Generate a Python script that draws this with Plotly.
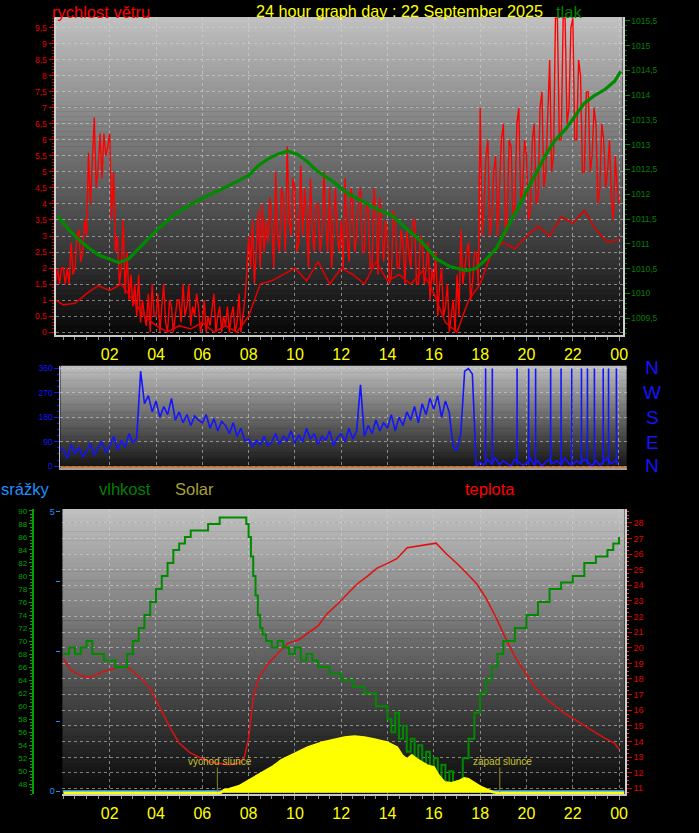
import pandas as pd
import plotly.graph_objects as go

BASE = pd.Timestamp("2025-09-22 00:00")

# ---------------- data: top panel (wind m/s, pressure hPa) ----------------
gust_start = "2025-09-21 23:40"          # 5-minute samples
gust_ms = [1.5, 2.0, 1.5, 2.0,
           2.0, 1.5, 2.0, 1.5, 2.8, 1.8, 2.0, 3.0, 3.2, 2.2, 2.5, 3.5,
           3.0, 5.6, 4.0, 5.2, 6.7, 4.5, 5.1, 6.2, 4.8, 6.2, 5.5, 5.8,
           6.2, 3.5, 5.0, 2.5, 3.0, 1.5, 2.0, 3.5, 1.2, 2.5, 1.0, 1.8,
           0.8, 1.5, 0.5, 1.8, 0.3, 1.0, 0.5, 0.2, 1.2, 0.0, 1.5, 0.5,
           0.5, 1.2, 0.0, 0.8, 1.5, 0.3, 0.0, 1.0, 0.8, 0.0, 0.5, 1.0,
           1.0, 0.3, 1.5, 0.5, 0.8, 1.5, 0.2, 0.8, 0.5, 1.2, 0.8, 0.0,
           0.3, 1.0, 0.0, 0.5, 0.2, 0.8, 1.2, 0.0, 0.5, 0.8, 0.0, 0.5,
           0.2, 0.8, 0.0, 0.5, 0.8, 0.0, 0.3, 1.2, 0.0, 0.5, 1.0, 1.8,
           3.0, 2.0, 3.5, 1.5, 2.5, 3.8, 2.0, 4.0, 2.5, 3.5, 2.8, 4.2,
           3.5, 2.0, 5.0, 3.0, 2.5, 4.5, 4.2, 2.5, 5.8, 3.5, 3.0, 4.8,
           4.5, 2.5, 2.8, 5.2, 3.0, 4.5, 3.5, 2.0, 4.8, 3.2, 2.5, 4.0,
           4.0, 2.5, 3.0, 5.0, 3.5, 2.5, 4.5, 2.0, 3.2, 4.5, 3.0, 2.5,
           3.5, 2.0, 4.8, 3.0, 2.2, 4.5, 4.0, 2.5, 3.0, 4.2, 4.5, 2.5,
           2.5, 4.0, 3.8, 2.0, 2.0, 4.5, 3.5, 1.8, 4.2, 3.0, 2.2, 3.5,
           3.0, 1.5, 1.8, 3.8, 3.5, 2.0, 2.0, 3.2, 2.8, 1.5, 3.2, 2.5,
           2.0, 3.5, 3.5, 1.5, 1.5, 3.0, 2.8, 1.5, 2.0, 2.8, 1.0, 2.0,
           1.5, 2.5, 0.5, 1.5, 2.0, 0.5, 0.8, 1.5, 0.0, 0.5, 1.0, 0.0,
           1.8, 0.5, 3.2, 1.5, 2.0, 2.5, 2.8, 1.0, 1.5, 2.5, 2.5, 1.5,
           7.0, 3.0, 4.0, 5.5, 6.0, 3.0, 3.5, 5.0, 5.5, 3.0, 4.5, 6.0,
           6.5, 3.0, 3.5, 6.0, 5.8, 3.5, 4.0, 6.5, 7.0, 4.0, 4.5, 6.0,
           5.5, 3.5, 3.8, 6.0, 6.5, 4.0, 4.2, 7.0, 7.5, 4.5, 5.0, 6.5,
           8.5, 5.0, 5.5, 9.8, 9.8, 6.0, 6.0, 9.8, 9.8, 6.5, 7.0, 9.5,
           9.8, 6.0, 6.0, 8.5, 8.0, 5.0, 5.0, 7.5, 7.5, 5.0, 5.5, 7.0,
           6.5, 4.0, 4.5, 6.5, 6.0, 4.5, 5.0, 6.0, 4.2, 3.5, 5.5, 4.5,
           4.0]

avg_hours = [-0.33, 0, 0.5, 1, 1.5, 2, 2.5, 3, 3.5, 4, 4.5, 5, 5.5, 6, 6.5, 7, 7.5, 8,
             8.5, 9, 9.5, 10, 10.5, 11, 11.5, 12, 12.5, 13, 13.5, 14, 14.5, 15, 15.5,
             16, 16.5, 17, 17.5, 18, 18.5, 19, 19.5, 20, 20.5, 21, 21.5, 22, 22.5, 23,
             23.5, 24]
avg_ms = [1.0, 0.85, 0.9, 1.2, 1.45, 1.3, 1.5, 1.0, 0.5, 0.2, 0.0, 0.2, 0.1, 0.3, 0.0,
          0.2, 0.0, 0.5, 1.5, 1.6, 1.8, 2.0, 1.6, 2.2, 1.5, 2.0, 1.8, 1.5, 2.2, 1.6,
          1.8, 1.5, 1.9, 1.2, 0.3, 0.0, 1.0, 1.5, 2.5, 2.8, 2.6, 3.0, 3.3, 3.0, 3.6,
          3.4, 3.8, 3.2, 2.8, 2.9]

pres_hours = [-0.26, 0.26, 0.69, 1.11, 1.54, 1.97, 2.4, 2.83, 3.25, 3.68, 4.11, 4.75,
              5.4, 6.04, 6.68, 7.32, 7.97, 8.4, 8.82, 9.25, 9.68, 10.1, 10.5, 10.96,
              11.6, 12.25, 12.9, 13.5, 14.2, 14.8, 15.5, 16.1, 16.7, 17.4, 17.8, 18.2,
              18.7, 19.1, 19.5, 19.96, 20.4, 20.8, 21.2, 21.7, 22.1, 22.5, 22.9, 23.4,
              23.8, 24.07]
pres_hpa = [1011.57, 1011.27, 1011.07, 1010.91, 1010.77, 1010.70, 1010.62, 1010.70,
            1010.91, 1011.11, 1011.31, 1011.57, 1011.77, 1011.93, 1012.07, 1012.21,
            1012.37, 1012.57, 1012.71, 1012.81, 1012.87, 1012.81, 1012.67, 1012.47,
            1012.27, 1012.03, 1011.87, 1011.71, 1011.57, 1011.31, 1011.03, 1010.70,
            1010.54, 1010.46, 1010.50, 1010.66, 1010.91, 1011.27, 1011.63, 1012.03,
            1012.43, 1012.77, 1013.07, 1013.32, 1013.58, 1013.84, 1013.98, 1014.12,
            1014.28, 1014.48]

wind_ticks = [0, 0.5, 1, 1.5, 2, 2.5, 3, 3.5, 4, 4.5, 5, 5.5, 6, 6.5, 7, 7.5, 8, 8.5, 9, 9.5]
wind_ticktext = ["0", "0,5", "1", "1,5", "2", "2,5", "3", "3,5", "4", "4,5", "5", "5,5",
                 "6", "6,5", "7", "7,5", "8", "8,5", "9", "9,5"]
pres_ticks = [1009.5, 1010, 1010.5, 1011, 1011.5, 1012, 1012.5, 1013, 1013.5, 1014,
              1014.5, 1015, 1015.5]
pres_ticktext = ["1009,5", "1010", "1010,5", "1011", "1011,5", "1012", "1012,5", "1013",
                 "1013,5", "1014", "1014,5", "1015", "1015,5"]

# ---------------- data: middle panel (wind direction, degrees) ----------------
dir_start = "2025-09-21 23:50"           # 10-minute samples
dir_deg = [70,
           60, 30, 80, 45, 70, 35,
           55, 85, 40, 70, 90, 50,
           75, 110, 60, 95, 70, 120,
           85, 105, 350, 230, 260, 200,
           240, 180, 220, 190, 250, 170,
           200, 160, 190, 150, 185, 170,
           160, 190, 140, 175, 130, 165,
           150, 120, 160, 110, 140, 95,
           100, 70, 95, 80, 110, 75,
           90, 120, 80, 110, 95, 130,
           85, 115, 90, 140, 100, 120,
           80, 110, 95, 130, 75, 105,
           120, 90, 140, 100, 130, 300,
           110, 150, 120, 170, 130, 160,
           140, 190, 130, 180, 150, 200,
           170, 220, 160, 230, 190, 250,
           210, 260, 180, 240, 200, 70,
           60, 120, 350, 360, 340, 0,
           15, 5, 25, 10, 30, 5,
           20, 10, 0, 25, 15, 5,
           10, 30, 5, 20, 0, 15,
           25, 10, 20, 5, 30, 10,
           5, 20, 10, 25, 15, 0,
           20, 5, 15, 30, 10, 20,
           15]
dir_spike_hours = [18.24, 18.53, 19.6, 20.1, 20.4, 21.05, 21.5, 21.96, 22.38, 22.64,
                   22.94, 23.32, 23.55, 23.89]
dir_spike_low = 5
dir_spike_high = 360
dir_ticks = [0, 90, 180, 270, 360]
compass = ["N", "W", "S", "E", "N"]

# ---------------- data: bottom panel ----------------
hum_hours = [0, 0.25, 0.5, 0.75, 1.0, 1.25, 1.5, 1.75, 2.0, 2.25, 2.5, 2.75, 3.0, 3.25,
             3.5, 3.75, 4.0, 4.25, 4.5, 4.75, 5.0, 5.25, 5.5, 6.0, 6.25, 6.5, 6.75, 7.75,
             7.9, 8.0, 8.1, 8.2, 8.3, 8.4, 8.5, 8.6, 8.75, 9.0, 9.25, 9.5, 9.75, 10.0,
             10.25, 10.5, 10.75, 11.0, 11.5, 12.0, 12.5, 13.0, 13.5, 14.0, 14.17, 14.33,
             14.5, 14.67, 14.83, 15.0, 15.17, 15.33, 15.5, 15.67, 15.83, 16.0, 16.17,
             16.33, 16.5, 16.67, 16.83, 17.0, 17.25, 17.5, 17.75, 18.0, 18.25, 18.5,
             18.75, 19.0, 19.5, 20.0, 20.5, 21.0, 21.5, 22.0, 22.5, 23.0, 23.5, 23.75, 24.0]
hum_pct = [68, 69, 68, 69, 70, 68, 68, 67, 67, 66, 66, 68, 70, 72, 74, 76, 78, 80, 82, 84,
           85, 86, 87, 87, 88, 88, 89, 89, 88, 86, 83, 80, 77, 74, 72, 71, 70, 69, 70, 69,
           68, 69, 67, 68, 67, 66, 65, 64, 63, 62, 60, 58, 56, 59, 55, 57, 53, 55, 51, 54,
           50, 53, 49, 52, 48, 51, 48, 50, 47.5, 48.5, 52, 55, 59, 62, 64, 66, 68, 70, 72,
           74, 76, 78, 79, 80, 82, 83, 84, 85, 86]

temp_hours = [0.0, 0.3, 0.75, 1.15, 1.6, 2.0, 2.45, 2.85, 3.3, 3.75, 4.15, 4.6, 5.0, 5.45,
              5.85, 6.3, 6.7, 7.15, 7.55, 7.8, 8.0, 8.2, 8.45, 8.85, 9.3, 9.7, 10.15,
              10.55, 11.0, 11.4, 11.85, 12.3, 12.7, 13.15, 13.55, 14.0, 14.4, 14.85,
              15.25, 15.7, 16.1, 16.55, 17.0, 17.4, 17.85, 18.25, 18.7, 19.1, 19.55,
              19.95, 20.4, 20.8, 21.25, 21.65, 22.1, 22.5, 22.95, 23.4, 23.8, 24.0]
temp_c = [19.3, 18.6, 18.2, 18.1, 18.4, 18.6, 18.8, 18.7, 18.1, 17.4, 16.2, 14.9, 13.9,
          13.3, 13.0, 12.7, 12.6, 12.5, 12.6, 12.9, 14.2, 16.8, 18.1, 19.0, 19.7, 20.3,
          20.5, 20.9, 21.4, 22.2, 22.8, 23.5, 24.1, 24.6, 25.1, 25.4, 25.7, 26.4, 26.5,
          26.6, 26.7, 26.0, 25.4, 24.8, 24.1, 23.2, 21.9, 20.6, 19.3, 18.4, 17.4, 16.8,
          16.3, 15.8, 15.4, 15.0, 14.6, 14.2, 13.9, 13.5]

solar_hours = [0.0, 6.8, 6.93, 7.15, 7.58, 7.87, 8.21, 8.64, 9.07, 9.41, 9.92, 10.56,
               11.2, 11.72, 12.15, 12.57, 13.0, 13.43, 13.77, 13.98, 14.02, 14.07, 14.41,
               14.63, 14.84, 15.05, 15.27, 15.48, 15.7, 16.0, 16.2, 16.46, 16.76, 17.06,
               17.32, 17.49, 17.75, 18.05, 18.35, 18.56, 18.7, 24.24]
solar_wm2 = [0, 0, 25, 35, 64, 104, 144, 203, 263, 322, 381, 451, 500, 530, 550, 560, 550,
             530, 510, 500, 134, 490, 451, 372, 332, 372, 332, 302, 273, 253, 173, 104,
             94, 114, 144, 134, 94, 55, 25, 5, 0, 0]

rain_hours = [-0.04, 24.24]
rain_mm = [0.0, 0.0]

sunrise_hour = 6.65
sunset_hour = 18.85

hum_ticks = list(range(48, 91, 2))
temp_ticks = list(range(11, 29))
rain_ticks = [0, 1.25, 2.5, 3.75, 5]
rain_ticktext = ["0", "", "", "", "5"]

tick_hours = [2, 4, 6, 8, 10, 12, 14, 16, 18, 20, 22, 24]
tick_labels = ["02", "04", "06", "08", "10", "12", "14", "16", "18", "20", "22", "00"]


# ---------------- helpers ----------------
def at(hours):
    return [BASE + pd.Timedelta(hours=h) for h in hours]


W, H = 699, 833


def px(x):
    return x / W


def py(y):
    return 1 - y / H


FONT = "Liberation Sans, Arial, sans-serif"
RED = "#ff0000"
GREEN = "#008a00"
BLUE = "#1414ff"
GRID = "rgba(215,215,215,0.55)"

gust_t = pd.date_range(gust_start, periods=len(gust_ms), freq="5min")
dir_t = pd.date_range(dir_start, periods=len(dir_deg), freq="10min")

spike_x, spike_y = [], []
for s in at(dir_spike_hours):
    spike_x += [s, s, None]
    spike_y += [dir_spike_low, dir_spike_high, None]

fig = go.Figure()

# top panel
fig.add_trace(go.Scatter(x=gust_t, y=gust_ms, mode="lines", line=dict(color=RED, width=1.4),
                         xaxis="x", yaxis="y", showlegend=False))
fig.add_trace(go.Scatter(x=at(avg_hours), y=avg_ms, mode="lines", line=dict(color="#e00000", width=1.6),
                         xaxis="x", yaxis="y", showlegend=False))
fig.add_trace(go.Scatter(x=at(pres_hours), y=pres_hpa, mode="lines", line=dict(color=GREEN, width=3.2),
                         xaxis="x", yaxis="y2", showlegend=False))

# middle panel
fig.add_trace(go.Scatter(x=dir_t, y=dir_deg, mode="lines", line=dict(color=BLUE, width=1.6),
                         xaxis="x2", yaxis="y3", showlegend=False))
fig.add_trace(go.Scatter(x=spike_x, y=spike_y, mode="lines", line=dict(color=BLUE, width=1.6),
                         xaxis="x2", yaxis="y3", showlegend=False))

# bottom panel
fig.add_trace(go.Scatter(x=at(solar_hours), y=solar_wm2, mode="lines", fill="tozeroy",
                         fillcolor="#ffff00", line=dict(color="#ffff00", width=2.5),
                         xaxis="x3", yaxis="y7", showlegend=False))
fig.add_trace(go.Scatter(x=at(rain_hours), y=rain_mm, mode="lines", line=dict(color="#1e90ff", width=2.5),
                         xaxis="x3", yaxis="y6", showlegend=False))
fig.add_trace(go.Scatter(x=at(hum_hours), y=hum_pct, mode="lines", line=dict(color=GREEN, width=2, shape="hv"),
                         xaxis="x3", yaxis="y5", showlegend=False))
fig.add_trace(go.Scatter(x=at(temp_hours), y=temp_c, mode="lines", line=dict(color="#e01010", width=1.5),
                         xaxis="x3", yaxis="y4", showlegend=False))

# ---------------- gradient backgrounds ----------------
shapes = []


def gradient(x0, x1, y0, y1, c0, c1, n=64):
    h = (y1 - y0) / n
    for i in range(n):
        f = i / (n - 1)
        c = int(round(c0 + (c1 - c0) * f))
        shapes.append(dict(type="rect", xref="paper", yref="paper",
                           x0=px(x0), x1=px(x1), y0=py(y0 + i * h), y1=py(y0 + (i + 1) * h + 0.5),
                           fillcolor=f"rgb({c},{c},{c})", line=dict(width=0), layer="below"))


gradient(56, 628, 15, 335, 192, 8)
gradient(61, 632, 366, 469, 190, 20)
gradient(63, 630, 510, 797, 192, 8)

# orange base line of the direction panel
shapes.append(dict(type="line", xref="paper", yref="paper", x0=px(61), x1=px(632), y0=py(468), y1=py(468),
                   line=dict(color="#d08040", width=2)))
# sunrise / sunset markers
for hh in (sunrise_hour, sunset_hour):
    tt = BASE + pd.Timedelta(hours=hh)
    shapes.append(dict(type="line", xref="x3", yref="paper", x0=tt, x1=tt, y0=py(795), y1=py(770),
                       line=dict(color="#8a8a30", width=1)))

# ---------------- annotations ----------------
ann = []


def text(s, x, y, color, size, anchor="left"):
    ann.append(dict(text=s, x=px(x), y=py(y), xref="paper", yref="paper", showarrow=False,
                    xanchor=anchor, yanchor="middle", font=dict(family=FONT, size=size, color=color)))


text("rychlost větru", 50, 10, RED, 16.5)
text("24 hour graph day : 22 September 2025", 256, 9, "#ffff00", 16.2)
text("tlak", 559, 10, "#008000", 16.5)
text("srážky", -1, 490, "#1e90ff", 16.5)
text("vlhkost", 98, 490, "#008000", 16.5)
text("Solar", 175, 490, "#a8a030", 16.5)
text("teplota", 467, 490, RED, 16.5)
for lab, yy in zip(compass, [368, 393, 418, 443, 466]):
    text(lab, 658, yy, BLUE, 19, "center")
text("východ slunce", 222, 764, "#c8c030", 10, "center")
text("západ slunce", 507, 764, "#c8c030", 10, "center")

# ---------------- axes ----------------
xcommon = dict(type="date", tickmode="array", tickvals=at(tick_hours), ticktext=tick_labels,
               showgrid=True, gridcolor=GRID, griddash="dot", gridwidth=1,
               ticks="outside", ticklen=4, tickcolor="#909090",
               minor=dict(dtick=1800000, tick0=BASE, ticklen=3, tickcolor="#909090", showgrid=False),
               showline=True, linecolor="#c8c8c8", linewidth=2, zeroline=False,
               tickfont=dict(family=FONT, size=16, color="#ffff00"), ticklabelstandoff=0)

layout = dict(
    width=W, height=H, autosize=False, margin=dict(l=0, r=0, t=0, b=0),
    paper_bgcolor="#000000", plot_bgcolor="rgba(0,0,0,0)", showlegend=False,
    font=dict(family=FONT),
    xaxis=dict(xcommon, domain=[px(56), px(628)], anchor="y",
               range=at([-0.34, 24.15])),
    yaxis=dict(domain=[py(335), py(15)], anchor="x", range=[-0.09, 9.84],
               tickmode="array", tickvals=wind_ticks, ticktext=wind_ticktext,
               tickfont=dict(family=FONT, size=8.5, color="#e00000"),
               ticks="outside", ticklen=5, tickcolor="#e00000",
               minor=dict(dtick=0.1, tick0=0, ticklen=2, tickcolor="#c00000", showgrid=False),
               showgrid=True, gridcolor=GRID, griddash="dot", zeroline=False,
               showline=True, linecolor="#d0d0d0", linewidth=2),
    yaxis2=dict(overlaying="y", side="right", anchor="x", range=[1009.16, 1015.58],
                tickmode="array", tickvals=pres_ticks, ticktext=pres_ticktext,
                tickfont=dict(family=FONT, size=8.5, color="#008000"),
                ticks="outside", ticklen=5, tickcolor="#008000",
                minor=dict(dtick=0.1, tick0=1009, ticklen=2, tickcolor="#007000", showgrid=False),
                showgrid=False, zeroline=False,
                showline=True, linecolor="#d0d0d0", linewidth=2),
    xaxis2=dict(xcommon, domain=[px(61), px(632)], anchor="y3", showticklabels=False,
                ticks="", minor=dict(ticks=""), range=at([-0.13, 24.33]), linecolor="#a0a0a0"),
    yaxis3=dict(domain=[py(469), py(366)], anchor="x2", range=[-7.3, 369.9],
                tickmode="array", tickvals=dir_ticks,
                tickfont=dict(family=FONT, size=8.5, color=BLUE),
                ticks="outside", ticklen=5, tickcolor=BLUE,
                minor=dict(dtick=22.5, tick0=0, ticklen=2, tickcolor=BLUE, showgrid=False),
                showgrid=True, gridcolor=GRID, griddash="dot", zeroline=False,
                showline=True, linecolor="#c8c8c8", linewidth=1),
    xaxis3=dict(xcommon, domain=[px(63), px(630)], anchor="y4",
                range=at([-0.04, 24.24])),
    yaxis4=dict(domain=[py(797), py(510)], anchor="x3", side="right", range=[10.62, 28.89],
                tickmode="array", tickvals=temp_ticks,
                tickfont=dict(family=FONT, size=9, color="#e00000"),
                ticks="outside", ticklen=5, tickcolor="#e00000",
                minor=dict(dtick=0.25, tick0=0, ticklen=2, tickcolor="#e04040", showgrid=False),
                showgrid=True, gridcolor=GRID, griddash="dot", zeroline=False,
                showline=True, linecolor="#d0d0d0", linewidth=2),
    yaxis5=dict(overlaying="y4", side="left", anchor="free", position=px(33), range=[46.47, 90.3],
                tickmode="array", tickvals=hum_ticks,
                tickfont=dict(family=FONT, size=8, color="#00a000"),
                ticks="outside", ticklen=3, tickcolor="#00a000",
                minor=dict(dtick=0.5, tick0=0, ticklen=2, tickcolor="#00a000", showgrid=False),
                showgrid=False, zeroline=False,
                showline=True, linecolor="#00a000", linewidth=2),
    yaxis6=dict(overlaying="y4", side="left", anchor="free", position=px(61), range=[-0.053, 5.053],
                tickmode="array", tickvals=rain_ticks, ticktext=rain_ticktext,
                tickfont=dict(family=FONT, size=9, color="#1e90ff"),
                ticks="outside", ticklen=4, tickcolor="#1e90ff",
                showgrid=False, zeroline=False, showline=False),
    yaxis7=dict(overlaying="y4", visible=False, range=[-15, 2830]),
    shapes=shapes, annotations=ann,
)
fig.update_layout(**layout)
fig.write_html("out.html", config={"displayModeBar": False},
               post_script="document.body.style.margin='0';document.body.style.background='#000';")
